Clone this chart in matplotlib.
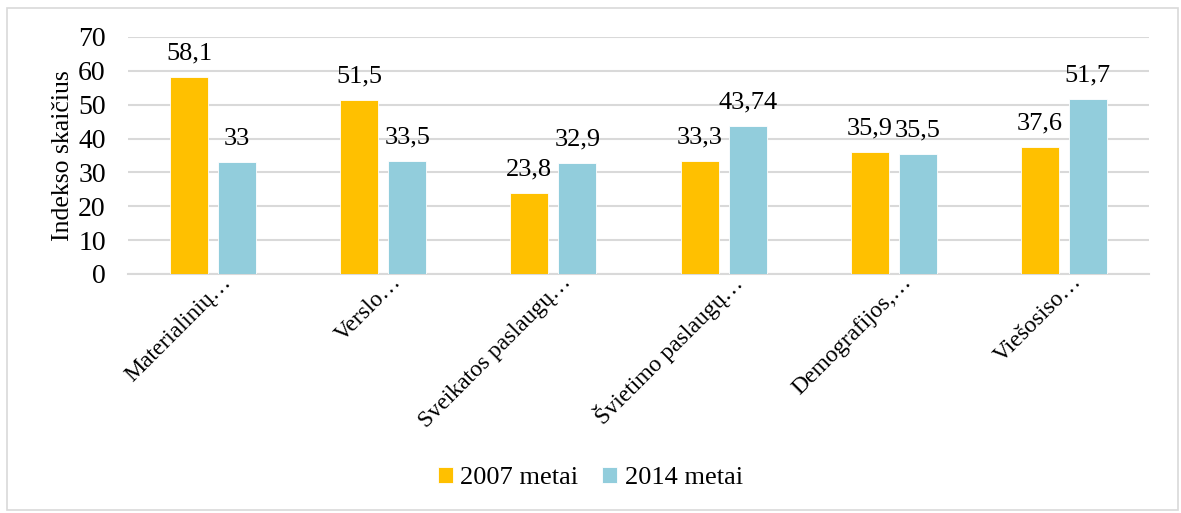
import matplotlib
matplotlib.use("Agg")
import matplotlib.pyplot as plt
import matplotlib.transforms as mtransforms
import numpy as np
from matplotlib.patches import Rectangle

categories = ["Materialinių…", "Verslo…", "Sveikatos paslaugų…",
              "Švietimo paslaugų…", "Demografijos,…", "Viešosiso…"]
series_names = ["2007 metai", "2014 metai"]
values_2007 = [58.1, 51.5, 23.8, 33.3, 35.9, 37.6]
values_2014 = [33, 33.5, 32.9, 43.74, 35.5, 51.7]
y_ticks = [0, 10, 20, 30, 40, 50, 60, 70]

plt.rcParams["font.family"] = ["Liberation Serif", "DejaVu Serif"]

fig = plt.figure(figsize=(11.81, 5.13), dpi=100)
ax = fig.add_axes([0.1084, 0.4659, 0.9729 - 0.1084, 0.9279 - 0.4659])

# outer frame of the chart area
fig.patches.append(Rectangle((7 / 1181, 1 - 510 / 513), (1178 - 7) / 1181, (510 - 8) / 513,
                             transform=fig.transFigure, fill=False,
                             edgecolor="#d9d9d9", linewidth=1.2))

x = np.arange(len(categories))
w = 0.224
off = 0.141
colors = ["#FFC000", "#92CDDC"]

for vals, dx, col, name in [(values_2007, -off, colors[0], series_names[0]),
                            (values_2014, off, colors[1], series_names[1])]:
    bars = ax.bar(x + dx, vals, width=w, color=col, edgecolor="white",
                  linewidth=0.6, label=name, zorder=3)
    for b, v in zip(bars, vals):
        txt = f"{v:g}".replace(".", ",")
        ax.annotate(txt, (b.get_x() + b.get_width() / 2, v), xytext=(0, 9),
                    textcoords="offset points", ha="center", va="bottom",
                    fontsize=19, color="#000000")

ax.set_xlim(-0.5, len(categories) - 0.5)
ax.set_ylim(0, 70)
ax.set_yticks(y_ticks)
ax.set_yticklabels([str(t) for t in y_ticks], fontsize=20)
ax.yaxis.grid(True, color="#d9d9d9", linewidth=1.5, zorder=0)
ax.set_axisbelow(True)
for s in ["top", "right", "left"]:
    ax.spines[s].set_visible(False)
ax.spines["bottom"].set_color("#d9d9d9")
ax.spines["bottom"].set_linewidth(1.5)
ax.tick_params(axis="both", length=0)
ax.tick_params(axis="y", pad=16)

ax.set_xticks(x)
ax.set_xticklabels(categories, rotation=45, ha="right", va="center",
                   rotation_mode="anchor", fontsize=17)
ax.tick_params(axis="x", pad=10)
# nudge the slanted category labels right and up
shift = mtransforms.ScaledTranslation(0.15, 0.09, fig.dpi_scale_trans)
for lbl in ax.get_xticklabels():
    lbl.set_transform(lbl.get_transform() + shift)

ax.set_ylabel("Indekso skaičius", fontsize=18.5, labelpad=3)

leg = fig.legend(loc="center", bbox_to_anchor=(0.5, 1 - 478 / 513), ncol=2,
                 frameon=False, fontsize=19, handlelength=0.55, handleheight=0.55,
                 handletextpad=0.3, columnspacing=0.9)

fig.savefig("out.png", dpi=100)
